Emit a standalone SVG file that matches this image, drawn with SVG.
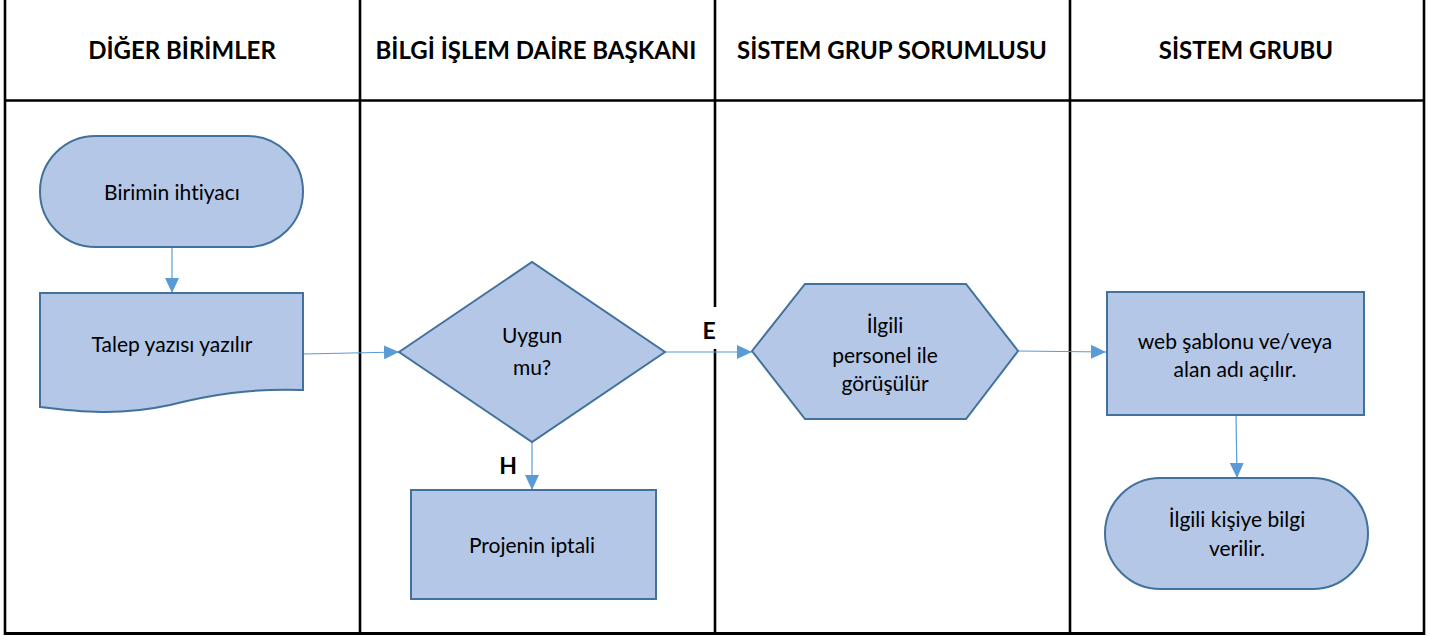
<svg xmlns="http://www.w3.org/2000/svg" width="1429" height="636" viewBox="0 0 1429 636">
<style>
.grid{stroke:#000;stroke-width:2.6;fill:none}
.hdr{font-family:"Lato","Liberation Sans",sans-serif;font-weight:bold;font-size:24px;fill:#000;text-anchor:middle;font-variant-ligatures:none}
.shape{fill:#B4C7E7;stroke:#41719C;stroke-width:2}
.lbl{font-family:"Lato","Liberation Sans",sans-serif;font-size:21px;fill:#000;text-anchor:middle;font-variant-ligatures:none}
.bl{font-family:"Lato","Liberation Sans",sans-serif;font-weight:bold;font-size:23px;fill:#000;text-anchor:middle}
.con{stroke:#5B9BD5;stroke-width:1.2;fill:none;marker-end:url(#ah)}
</style>
<defs>
<marker id="ah" markerWidth="15" markerHeight="14" refX="15" refY="7" orient="auto" markerUnits="userSpaceOnUse">
<path d="M0,0 L15,7 L0,14 Z" fill="#5B9BD5"/>
</marker>
</defs>
<rect width="1429" height="636" fill="#fff"/>
<g id="table">
<line class="grid" x1="5" y1="0" x2="5" y2="635"/>
<line class="grid" x1="1424" y1="0" x2="1424" y2="635"/>
<line class="grid" x1="5" y1="100.5" x2="1424" y2="100.5"/>
<line class="grid" x1="5" y1="633.5" x2="1424" y2="633.5" style="stroke-width:3.2"/>
<line class="grid" x1="360" y1="0" x2="360" y2="633"/>
<line class="grid" x1="715" y1="0" x2="715" y2="307"/>
<line class="grid" x1="715" y1="349" x2="715" y2="633"/>
<line class="grid" x1="1070" y1="0" x2="1070" y2="633"/>
<text class="hdr" x="182" y="59">DİĞER BİRİMLER</text>
<text class="hdr" x="536" y="59">BİLGİ İŞLEM DAİRE BAŞKANI</text>
<text class="hdr" x="892" y="59">SİSTEM GRUP SORUMLUSU</text>
<text class="hdr" x="1246" y="59">SİSTEM GRUBU</text>
</g>
<g id="connectors">
<line class="con" x1="172" y1="247" x2="172" y2="293"/>
<line class="con" x1="303" y1="354" x2="399" y2="352"/>
<line class="con" x1="666" y1="352" x2="752" y2="352"/>
<line class="con" x1="532" y1="443" x2="532" y2="490"/>
<line class="con" x1="1018" y1="351" x2="1106" y2="352"/>
<line class="con" x1="1236" y1="415" x2="1237" y2="478"/>
<text class="bl" x="709" y="339">E</text>
<text class="bl" x="508" y="474">H</text>
</g>
<g id="n1">
<rect class="shape" x="40" y="136" width="263" height="111" rx="55.5" ry="55.5"/>
<text class="lbl" x="172" y="200">Birimin ihtiyacı</text>
</g>
<g id="n2">
<path class="shape" d="M40,293 L303,293 L303,390 C250,388 210,395 170,405 C120,416 80,412 40,407 Z"/>
<text class="lbl" x="172" y="352">Talep yazısı yazılır</text>
</g>
<g id="n3">
<polygon class="shape" points="399,352 532,262 665,352 532,442"/>
<text class="lbl" x="532" y="343">Uygun</text>
<text class="lbl" x="532" y="375">mu?</text>
</g>
<g id="n4">
<rect class="shape" x="411" y="490" width="245" height="109"/>
<text class="lbl" x="532" y="553">Projenin iptali</text>
</g>
<g id="n5">
<polygon class="shape" points="752,351 805,284 966,284 1018,351 966,419 805,419"/>
<text class="lbl" x="885" y="333">İlgili</text>
<text class="lbl" x="885" y="363">personel ile</text>
<text class="lbl" x="885" y="391">görüşülür</text>
</g>
<g id="n6">
<rect class="shape" x="1107" y="292" width="257" height="123"/>
<text class="lbl" x="1235" y="349">web şablonu ve/veya</text>
<text class="lbl" x="1235" y="377">alan adı açılır.</text>
</g>
<g id="n7">
<rect class="shape" x="1105" y="478" width="263" height="111" rx="55.5" ry="55.5"/>
<text class="lbl" x="1237" y="527">İlgili kişiye bilgi</text>
<text class="lbl" x="1237" y="556">verilir.</text>
</g>
</svg>
